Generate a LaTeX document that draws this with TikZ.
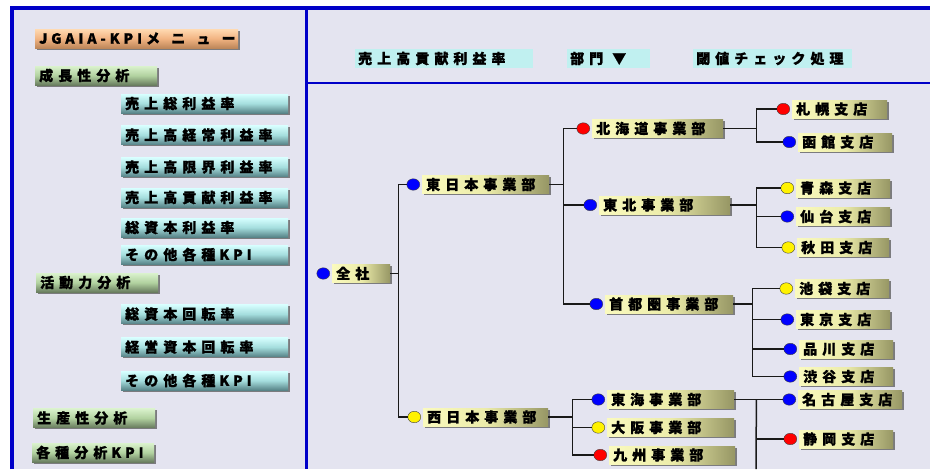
\documentclass[tikz,border=0pt]{standalone}
\usepackage{fontspec}
\newfontfamily\jp{Noto Sans CJK JP}[LetterSpace=36, BoldFeatures={FakeBold=1.2}]
\newfontfamily\jplat{Noto Sans CJK JP}[LetterSpace=28, BoldFeatures={FakeBold=1.2}]
\newfontfamily\jpwide{Noto Sans CJK JP}[LetterSpace=80, BoldFeatures={FakeBold=1.2}]
\usetikzlibrary{positioning,shapes.geometric,shadows}
\definecolor{bg}{RGB}{228,228,240}
\definecolor{frame}{RGB}{0,0,200}
\definecolor{cyanlt}{RGB}{215,255,255}
\definecolor{cyanmd}{RGB}{165,222,222}
\definecolor{cyandk}{RGB}{88,132,136}
\definecolor{greenlt}{RGB}{218,242,205}
\definecolor{greenmd}{RGB}{178,210,160}
\definecolor{greendk}{RGB}{105,125,95}
\definecolor{orangelt}{RGB}{255,218,178}
\definecolor{orangemd}{RGB}{242,180,130}
\definecolor{orangedk}{RGB}{190,135,90}
\definecolor{olivelt}{RGB}{250,250,190}
\definecolor{olivemd}{RGB}{236,236,170}
\definecolor{olivedk}{RGB}{150,150,100}
\definecolor{barcyan}{RGB}{192,240,240}
\newcommand{\lat}[1]{{\jplat\bfseries #1}}
\tikzset{node distance=2pt, auto,
  btn/.style={anchor=west, minimum height=19pt, inner xsep=4pt, inner ysep=0pt,
    text width=#1, align=left, font=\jp\bfseries\fontsize{14}{16}\selectfont,
    drop shadow={shadow xshift=1.8pt, shadow yshift=-1.5pt, fill=black!65, opacity=.75}},
  kpi/.style={btn=#1, top color=cyanlt, bottom color=cyandk, middle color=cyanmd},
  grp/.style={btn=#1, top color=greenlt, bottom color=greendk, middle color=greenmd},
  head/.style={btn=#1, top color=orangelt, bottom color=orangedk, middle color=orangemd},
  unit/.style={btn=#1, minimum height=18pt, left color=olivelt, right color=olivedk, middle color=olivemd},
  bar/.style={anchor=west, minimum height=19pt, inner xsep=3pt, inner ysep=0pt,
    text width=#1, align=left, fill=barcyan, font=\jp\bfseries\fontsize{14}{16}\selectfont},
  dot/.style={ellipse, draw=black!75, fill=#1, minimum width=13pt, minimum height=11.5pt, inner sep=0pt},
  wire/.style={line width=1.5pt, black!90}}
\begin{document}
\begin{tikzpicture}[x=1pt, y=-1pt]
  \useasboundingbox (0,0) rectangle (932,469);
  \fill[white] (0,0) rectangle (932,469);
  \fill[bg] (10,8) rectangle (930,469);
  \draw[frame, line width=4pt] (12,469) -- (12,8) -- (930,8);
  \draw[frame, line width=3pt] (306.5,8) -- (306.5,469);
  \draw[frame, line width=2pt] (306.5,83) -- (930,83);

  % menu
  \node[head=195pt] (M) at (35,38.5) {\lat{JGAIA-KPI}\hspace{4pt}{\jpwide\bfseries メニュー}};
  \node[grp=114pt] (G1) at (35,75.5) {成長性分析};
  \node[kpi=159pt] (C1) at (121,103.5) {売上総利益率};
  \node[kpi=159pt] (C2) at (121,135) {売上高経常利益率};
  \node[kpi=159pt] (C3) at (121,167) {売上高限界利益率};
  \node[kpi=159pt] (C4) at (121,197.5) {売上高貢献利益率};
  \node[kpi=159pt] (C5) at (121,227.5) {総資本利益率};
  \node[kpi=159pt] (C6) at (121,254.5) {その他各種\hspace{4pt}\lat{KPI}};
  \node[grp=114pt] (G2) at (36,282.5) {活動力分析};
  \node[kpi=159pt] (C7) at (121,314) {総資本回転率};
  \node[kpi=159pt] (C8) at (121,347) {経営資本回転率};
  \node[kpi=159pt] (C9) at (121,380.5) {その他各種\hspace{4pt}\lat{KPI}};
  \node[grp=114pt] (G3) at (33,418) {生産性分析};
  \node[grp=114pt] (G4) at (32,452.5) {各種分析\hspace{4pt}\lat{KPI}};

  \node[bar=172pt] (B1) at (355,58.5) {売上高貢献利益率};
  \node[bar=77pt] (B2) at (567,58.5) {部門\hspace{9pt}▼};
  \node[bar=153pt] (B3) at (693,58.5) {閾値チェック処理};

  % tree
  \node[unit=50pt] (Z) at (332,273.5) {全社};
  \node[unit=119pt] (E) at (422,184.5) {東日本事業部};
  \node[unit=117pt] (W) at (423,417) {西日本事業部};
  \node[unit=123pt] (H) at (592,128.5) {北海道事業部};
  \node[unit=123pt] (T) at (599,205) {東北事業部};
  \node[unit=120pt] (S) at (605,304) {首都圏事業部};
  \node[unit=119pt] (K) at (607,399.5) {東海事業部};
  \node[unit=119pt] (O) at (607,427.5) {大阪事業部};
  \node[unit=118pt] (Q) at (609,455) {九州事業部};
  \node[unit=87pt] (H1) at (792,109) {札幌支店};
  \node[unit=86pt] (H2) at (798,142) {函館支店};
  \node[unit=86pt] (T1) at (796,188) {青森支店};
  \node[unit=86pt] (T2) at (796,216.5) {仙台支店};
  \node[unit=84pt] (T3) at (797,247.5) {秋田支店};
  \node[unit=86pt] (S1) at (795,288.5) {池袋支店};
  \node[unit=86pt] (S2) at (796,319.5) {東京支店};
  \node[unit=86pt] (S3) at (799,349) {品川支店};
  \node[unit=86pt] (S4) at (799,376.5) {渋谷支店};
  \node[unit=96pt] (K1) at (798,399.5) {名古屋支店};
  \node[unit=86pt] (K2) at (799,439) {静岡支店};

  \node[dot=blue, left=of Z] (Zd) {};
  \node[dot=blue, left=of E] (Ed) {};
  \node[dot=yellow, left=of W] (Wd) {};
  \node[dot=red, left=of H] (Hd) {};
  \node[dot=blue, left=of T] (Td) {};
  \node[dot=blue, left=of S] (Sd) {};
  \node[dot=blue, left=of K] (Kd) {};
  \node[dot=yellow, left=of O] (Od) {};
  \node[dot=red, left=of Q] (Qd) {};
  \node[dot=red, left=of H1] (H1d) {};
  \node[dot=blue, left=of H2] (H2d) {};
  \node[dot=yellow, left=of T1] (T1d) {};
  \node[dot=blue, left=of T2] (T2d) {};
  \node[dot=yellow, left=of T3] (T3d) {};
  \node[dot=yellow, left=of S1] (S1d) {};
  \node[dot=blue, left=of S2] (S2d) {};
  \node[dot=blue, left=of S3] (S3d) {};
  \node[dot=blue, left=of S4] (S4d) {};
  \node[dot=blue, left=of K1] (K1d) {};
  \node[dot=red, left=of K2] (K2d) {};
  \coordinate (kb) at (756,469);

  \draw[wire] (Z.east) -- ++(8,0) coordinate (z) |- (Ed.west);
  \draw[wire] (z) |- (Wd.west);
  \draw[wire] (E.east) -- ++(14,0) coordinate (e) |- (Hd.west);
  \draw[wire] (e) |- (Td.west);
  \draw[wire] (e) |- (Sd.west);
  \draw[wire] (W.east) -- ++(24,0) coordinate (w) |- (Kd.west);
  \draw[wire] (w) |- (Od.west);
  \draw[wire] (w) |- (Qd.west);
  \draw[wire] (H.east) -- ++(33,0) coordinate (h) |- (H1d.west);
  \draw[wire] (h) |- (H2d.west);
  \draw[wire] (T.east) -- ++(26,0) coordinate (t) |- (T1d.west);
  \draw[wire] (t) |- (T2d.west);
  \draw[wire] (t) |- (T3d.west);
  \draw[wire] (S.east) -- ++(19,0) coordinate (s) |- (S1d.west);
  \draw[wire] (s) |- (S2d.west);
  \draw[wire] (s) |- (S3d.west);
  \draw[wire] (s) |- (S4d.west);
  \draw[wire] (K.east) -- ++(22,0) coordinate (k) |- (K1d.west);
  \draw[wire] (k) |- (K2d.west);
  \draw[wire] (k) -- (kb);
\end{tikzpicture}
\end{document}
